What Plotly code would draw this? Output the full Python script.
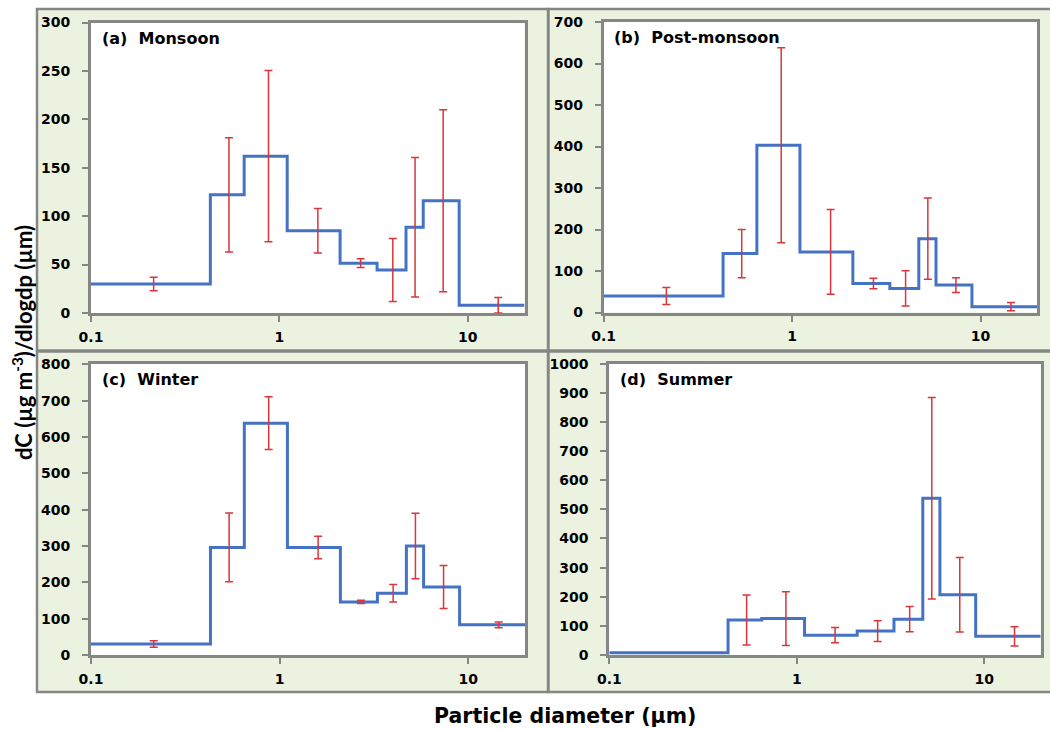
import plotly.graph_objects as go

# ---- data ----
bin_edges = [0.1, 0.43, 0.65, 1.1, 2.1, 3.3, 4.7, 5.8, 9.0, 20.0]
stage_mid = [0.215, 0.54, 0.875, 1.6, 2.7, 4.0, 5.25, 7.4, 14.5]

panel_labels = ["(a)\u00a0\u00a0Monsoon", "(b)\u00a0\u00a0Post-monsoon",
                "(c)\u00a0\u00a0Winter", "(d)\u00a0\u00a0Summer"]

monsoon = [30, 122, 162, 85, 51.5, 44.5, 88.5, 116, 8]
monsoon_err = [7, 59, 88.5, 23, 4.5, 32.5, 72, 94, 8]

postmonsoon = [40, 142, 403, 146, 70, 58, 178, 66, 14]
postmonsoon_err = [20.5, 58, 235, 102, 12.5, 42.5, 98, 18, 10]

winter = [30, 296, 638, 296, 146, 170, 300, 187, 83]
winter_err = [9, 94.5, 72.5, 31, 4.5, 24, 90, 59, 8]

summer = [8, 120, 125, 68, 82, 123, 538, 207, 64]
summer_err = [None, 86, 92, 26, 35.5, 43.5, 346, 128, 33]

y_max = [300, 700, 800, 1000]
y_step = [50, 100, 100, 100]
x_tickvals = [0.1, 1, 10]
x_ticktext = ["0.1", "1", "10"]

series = [(monsoon, monsoon_err), (postmonsoon, postmonsoon_err),
          (winter, winter_err), (summer, summer_err)]

# ---- layout geometry (pixels) ----
W, H = 1050, 729
plot_px = [  # x0, x1, y0(top), y1(bottom)
    (91.0, 524.5, 22.5, 313),
    (603.7, 1037.3, 22, 312.5),
    (91.0, 525, 364.3, 655),
    (609.3, 1040.7, 363.7, 655),
]
box_px = [
    (37, 548, 9, 350.5),
    (548.5, 1056, 9, 350.5),
    (37, 548, 351.5, 692),
    (548.5, 1056, 351.5, 692),
]

TICKFONT = "'DejaVu Sans', Verdana, sans-serif"
TITLEFONT = "Lato, 'Open Sans', sans-serif"
BLUE = "#4472C4"
RED = "#D9353A"
GRAY = "#868686"
GREEN = "#EBF3E0"

fig = go.Figure()
shapes = []
annotations = []
layout_axes = {}

for (bx0, bx1, by0, by1) in box_px:
    shapes.append(dict(
        type="rect", xref="paper", yref="paper", layer="below",
        x0=bx0 / W, x1=bx1 / W, y0=1 - by1 / H, y1=1 - by0 / H,
        fillcolor=GREEN, line=dict(color=GRAY, width=2.5)))

for i, ((vals, errs), (px0, px1, py0, py1), lab) in enumerate(zip(series, plot_px, panel_labels)):
    n = i + 1
    xa = "x" if n == 1 else f"x{n}"
    ya = "y" if n == 1 else f"y{n}"
    xkey = "xaxis" if n == 1 else f"xaxis{n}"
    ykey = "yaxis" if n == 1 else f"yaxis{n}"

    ex = [m for m, e in zip(stage_mid, errs) if e is not None]
    ey = [v for v, e in zip(vals, errs) if e is not None]
    ee = [e for e in errs if e is not None]

    fig.add_trace(go.Scatter(
        x=bin_edges, y=vals + [vals[-1]], mode="lines", line_shape="hv",
        line=dict(color=BLUE, width=3), xaxis=xa, yaxis=ya, showlegend=False,
        hoverinfo="skip"))
    fig.add_trace(go.Scatter(
        x=ex, y=ey, mode="markers", marker=dict(size=1, color="rgba(0,0,0,0)"),
        error_y=dict(type="data", array=ee, symmetric=True, color=RED,
                     thickness=1.5, width=4),
        xaxis=xa, yaxis=ya, showlegend=False))

    # white plot-area background (drawn above the green panel box)
    shapes.append(dict(
        type="rect", xref="paper", yref="paper", layer="below",
        x0=px0 / W, x1=px1 / W, y0=1 - py1 / H, y1=1 - py0 / H,
        fillcolor="white", line=dict(width=0)))

    layout_axes[xkey] = dict(
        type="log", range=[-1, 1.30103], domain=[px0 / W, px1 / W],
        anchor=ya, tickvals=x_tickvals, ticktext=x_ticktext,
        showline=True, linecolor=GRAY, linewidth=3, mirror=True,
        ticks="outside", ticklen=6, tickwidth=2, tickcolor=GRAY,
        showgrid=False, zeroline=False, ticklabelstandoff=3, automargin=False,
        tickfont=dict(family=TICKFONT, size=14, color="black", weight="bold"))
    layout_axes[ykey] = dict(
        range=[0, y_max[i]], dtick=y_step[i], domain=[1 - py1 / H, 1 - py0 / H],
        anchor=xa, showline=True, linecolor=GRAY, linewidth=3, mirror=True,
        ticks="outside", ticklen=6, tickwidth=2, tickcolor=GRAY,
        showgrid=False, zeroline=False, ticklabelstandoff=9, automargin=False,
        tickfont=dict(family=TICKFONT, size=14, color="black", weight="bold"))

    annotations.append(dict(
        text=lab, xref="paper", yref="paper",
        x=(px0 + 8.5) / W, y=1 - (py0 + 15.5) / H, xanchor="left", yanchor="middle",
        showarrow=False,
        font=dict(family=TICKFONT, size=16, color="black", weight="bold")))

annotations.append(dict(
    text="dC (µg m<sup>-3</sup>)/dlogdp (µm)", xref="paper", yref="paper",
    x=22 / W, y=1 - 343 / H, textangle=-90, showarrow=False,
    xanchor="center", yanchor="middle",
    font=dict(family=TITLEFONT, size=22, color="black", weight="bold")))
annotations.append(dict(
    text="Particle diameter (µm)", xref="paper", yref="paper",
    x=564.5 / W, y=1 - 716 / H, showarrow=False, xanchor="center", yanchor="middle",
    font=dict(family=TICKFONT, size=20.5, color="black", weight="bold")))

fig.update_layout(
    template="none",
    width=W, height=H, margin=dict(l=0, r=0, t=0, b=0, pad=0, autoexpand=False),
    paper_bgcolor="white", plot_bgcolor="white",
    shapes=shapes, annotations=annotations, showlegend=False,
    **layout_axes)

fig.write_html("out.html", config={"displayModeBar": False},
               post_script="document.body.style.margin='0px';")
